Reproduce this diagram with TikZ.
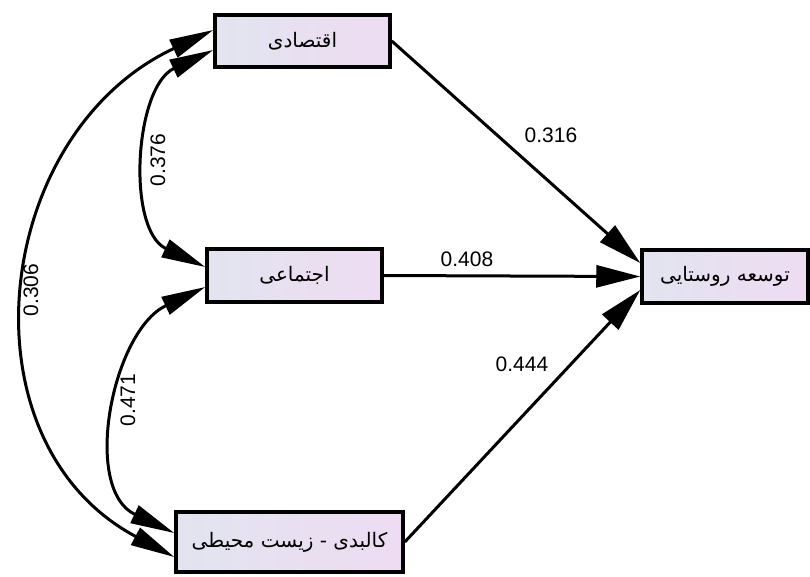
\documentclass[tikz,border=0pt]{standalone}
\usepackage{fontspec}
\setmainfont{Liberation Sans}
\newfontfamily\arabicfont[Script=Arabic]{DejaVu Sans}
\TeXXeTstate=1
\usetikzlibrary{arrows.meta}
\definecolor{boxL}{RGB}{226,228,240}
\definecolor{boxR}{RGB}{238,220,242}
\begin{document}
\begin{tikzpicture}[x=1pt,y=-1pt,
  var/.style={draw=black, line width=3.5pt, left color=boxL, right color=boxR, inner sep=0pt,
    font=\arabicfont\fontsize{20}{24}\selectfont},
  reg/.style={line width=3pt, -{Triangle[length=44pt,width=22pt]}},
  cov/.style={line width=3pt, {Triangle[length=44pt,width=19pt]}-{Triangle[length=44pt,width=19pt]}},
  lbl/.style={font=\fontsize{21}{24}\selectfont, inner sep=0pt}
]
\useasboundingbox (0,0) rectangle (810,576);
\fill[white] (0,0) rectangle (810,576);
% variables
\node[var, minimum width=175pt, minimum height=52pt] (eco) at (302.5,41) {\beginR اقتصادی\endR};
\node[var, minimum width=175pt, minimum height=53pt] (soc) at (294.5,275.5) {\beginR اجتماعی\endR};
\node[var, minimum width=227pt, minimum height=60pt] (phy) at (289.5,542) {\beginR کالبدی - زیست محیطی\endR};
\node[var, minimum width=166pt, minimum height=53pt] (dev) at (725,276.5) {\beginR توسعه روستایی\endR};
% regression paths
\draw[reg] (eco.east) -- ([yshift=13.5pt]dev.west);
\draw[reg] (soc.east) -- (dev.west);
\draw[reg] (phy.east) -- ([yshift=-13.5pt]dev.west);
% covariances
\draw[cov] ([yshift=11pt]eco.west) .. controls +(-222,104) and +(-216,-115) .. ([yshift=-15pt]phy.west);
\draw[cov] ([yshift=-9pt]eco.west) .. controls +(-79,37) and +(-79,-37) .. ([yshift=8.5pt]soc.west);
\draw[cov] ([yshift=-11.5pt]soc.west) .. controls +(-93,44) and +(-93,-44) .. ([yshift=9pt]phy.west);
% labels
\node[lbl] (l316) at (551,135) {0.316};
\node[lbl] (l408) at (467,259) {0.408};
\node[lbl] (l444) at (522,364) {0.444};
\node[lbl, rotate=90] (l306) at (31,290) {0.306};
\node[lbl, rotate=90] (l376) at (158,160) {0.376};
\node[lbl, rotate=90] (l471) at (128,400) {0.471};
\end{tikzpicture}
\end{document}
